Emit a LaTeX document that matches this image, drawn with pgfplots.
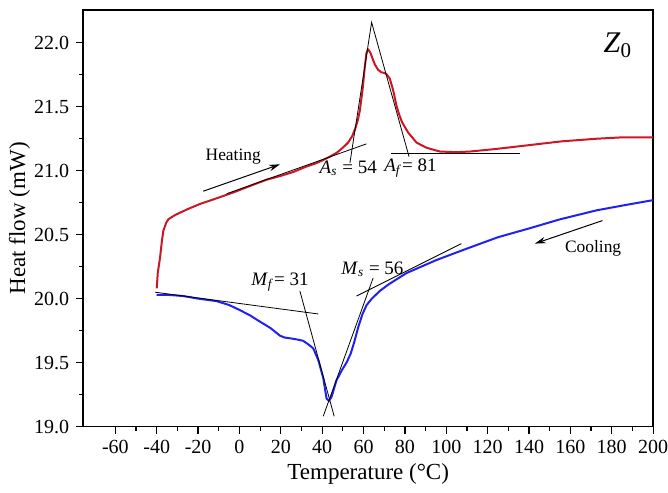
\documentclass[border=0pt]{standalone}
\usepackage{fontspec}
\setmainfont{Liberation Serif}
\usepackage{pgfplots}
\pgfplotsset{compat=1.18}
\usetikzlibrary{arrows.meta}
\definecolor{heatred}{RGB}{204,22,38}
\definecolor{coolblue}{RGB}{32,32,245}

\newcommand{\lbl}{\fontsize{9.5}{11}\selectfont}
\newcommand{\arr}{\fontsize{8.7}{10}\selectfont}

\begin{document}
\begin{tikzpicture}
\begin{axis}[
  scale only axis,
  width=284.9pt, height=208.2pt,
  xmin=-75.5, xmax=200, ymin=19, ymax=22.256,
  xtick={-60,-40,...,200},
  ytick={19,19.5,20,20.5,21,21.5,22},
  minor x tick num=1, minor y tick num=1,
  tick pos=left, tick align=outside,
  major tick length=3.5pt, minor tick length=2pt,
  every tick/.style={black, line width=0.6pt},
  axis line style={line width=0.8pt},
  ticklabel style={font=\fontsize{10}{12}\selectfont},
  /pgf/number format/assume math mode=true,
  yticklabel style={/pgf/number format/fixed, /pgf/number format/fixed zerofill, /pgf/number format/precision=1},
  xlabel={Temperature (°C)},
  ylabel={Heat flow (mW)},
  label style={font=\fontsize{11.5}{13}\selectfont},
  xlabel style={at={(axis description cs:0.5,-0.113)}, anchor=center},
  ylabel style={at={(axis description cs:-0.112,0.5)}, anchor=center},
  clip=false,
]
% heating run
\addplot[heatred, line width=1pt, line join=round] coordinates {
(-40,20.08) (-39.5,20.20) (-38.4,20.32) (-37.5,20.45) (-36.8,20.53) (-35.5,20.59)
(-34.4,20.62) (-32,20.645) (-30.3,20.66) (-25,20.70) (-19.1,20.74) (-10,20.79)
(-3,20.83) (5,20.88) (13.1,20.93) (20,20.96) (26,20.99) (32,21.03) (37.3,21.06)
(40,21.08) (43.7,21.11) (47,21.14) (50,21.18) (52.5,21.22) (54.5,21.27)
(56,21.33) (57.3,21.40) (58.2,21.47) (59.5,21.63) (60.6,21.81) (61.4,21.92)
(62.2,21.95) (63.4,21.92) (64.5,21.87) (65.5,21.83) (67,21.79) (68.5,21.77)
(70,21.765) (71.1,21.755) (72.7,21.72) (74.3,21.63) (75.9,21.51) (77.2,21.44)
(78.6,21.38) (81.5,21.30) (85.6,21.22) (90.4,21.18) (96.9,21.15) (104.9,21.145)
(111.4,21.15) (124,21.17) (140,21.20) (156,21.23) (172.6,21.25) (183.8,21.26) (200,21.26)
};
% cooling run
\addplot[coolblue, line width=1pt, line join=round] coordinates {
(-40,20.03) (-35,20.03) (-27.1,20.02) (-20,20.00) (-11,19.98) (-5,19.95) (0.2,19.91)
(5,19.87) (9.9,19.82) (15,19.77) (19.6,19.71) (22,19.695) (24.4,19.69) (28,19.68)
(30.8,19.67) (33.5,19.64) (35.7,19.61) (38.1,19.52) (40.5,19.38) (42.1,19.22)
(43.2,19.20) (44.5,19.23) (46.9,19.36) (49.5,19.44) (51.8,19.50) (53.8,19.57)
(55.5,19.66) (57.5,19.78) (59.5,19.88) (61.5,19.95) (64,20.00) (67.9,20.06) (72,20.11)
(80.8,20.20) (95,20.30) (108.1,20.38) (125,20.48) (140.3,20.55) (155,20.62)
(172.6,20.69) (186,20.73) (200,20.77)
};
% tangent construction lines
\addplot[black, line width=0.4pt] coordinates {(-6.2,20.82) (61.4,21.21)};
\addplot[black, line width=0.4pt] coordinates {(53.4,21.06) (63.9,22.16) (82,21.11)};
\addplot[black, line width=0.4pt] coordinates {(73.5,21.135) (135.5,21.135)};
\addplot[black, line width=0.4pt] coordinates {(-40.8,20.05) (38.1,19.88)};
\addplot[black, line width=0.4pt] coordinates {(29.2,20.06) (45.8,19.08)};
\addplot[black, line width=0.4pt] coordinates {(40.5,19.08) (64.6,20.16)};
\addplot[black, line width=0.4pt] coordinates {(56.6,20.02) (107.3,20.43)};
% direction arrows
\addplot[black, line width=0.5pt, -{Stealth[length=5.5pt,width=3.2pt]}] coordinates {(-17.5,20.84) (19.6,21.05)};
\addplot[black, line width=0.5pt, -{Stealth[length=5.5pt,width=3.2pt]}] coordinates {(175.5,20.61) (142.8,20.43)};

\node[font=\arr] at (axis cs:-3,21.11) {Heating};
\node[font=\arr] at (axis cs:171,20.39) {Cooling};
\node[font=\lbl] at (axis cs:52.6,21.02) {\textit{A}\textsubscript{\textit{s}} = 54};
\node[font=\lbl] at (axis cs:82.7,21.02) {\textit{A}\textsubscript{\textit{f}}= 81};
\node[font=\lbl] at (axis cs:19.6,20.13) {\textit{M}\textsubscript{\textit{f}}= 31};
\node[font=\lbl] at (axis cs:64.3,20.23) {\textit{M}\textsubscript{\textit{s}} = 56};
\node[font=\fontsize{15}{17}\selectfont] at (axis cs:183,21.98) {\textit{Z}\textsubscript{0}};
\end{axis}
\pgfresetboundingbox
\path[use as bounding box] (-41.65pt,-32.75pt) rectangle (292.35pt,213.25pt);
\end{tikzpicture}
\end{document}
